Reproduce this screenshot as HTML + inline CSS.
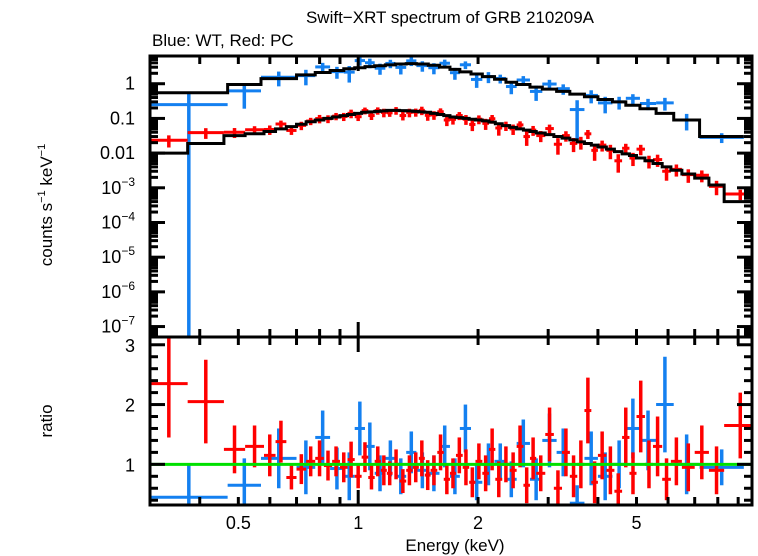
<!DOCTYPE html>
<html><head><meta charset="utf-8"><style>
html,body{margin:0;padding:0;background:#fff}
svg{display:block;font-family:"Liberation Sans",Arial,sans-serif}
</style></head><body>
<svg id="chart" width="758" height="556" viewBox="0 0 758 556" xmlns="http://www.w3.org/2000/svg">
<text x="450" y="23" font-size="17" text-anchor="middle">Swift−XRT spectrum of GRB 210209A</text>
<text x="152" y="46" font-size="17">Blue: WT, Red: PC</text>
<text transform="translate(52,205) rotate(-90)" font-size="17" text-anchor="middle">counts s<tspan font-size="11" dy="-7">−1</tspan><tspan dy="7"> keV</tspan><tspan font-size="11" dy="-7">−1</tspan></text>
<text transform="translate(52,421) rotate(-90)" font-size="17" text-anchor="middle">ratio</text>
<text x="455" y="551" font-size="17" text-anchor="middle">Energy (keV)</text>
<g id="plot"></g>
</svg>
<script>
// ---- data ----
const blueEdges=[0.3,0.47,0.57,0.7,0.78,0.85,0.92,0.98,1.04,1.1,1.17,1.24,1.32,1.4,1.5,1.6,1.7,1.8,1.92,2.05,2.2,2.35,2.5,2.7,2.9,3.15,3.4,3.7,4.0,4.35,4.7,5.1,5.6,6.2,7.2,9.3];
const blueModel=[0.55,0.95,1.4,1.8,2.1,2.4,2.7,2.9,3.1,3.3,3.5,3.7,3.8,3.7,3.4,3.0,2.6,2.2,1.9,1.6,1.35,1.1,0.95,0.8,0.7,0.6,0.5,0.42,0.35,0.3,0.24,0.19,0.14,0.09,0.03];
const blueData=[0.25,0.62,1.54,1.71,3.05,2.23,2.16,4.64,4.03,2.8,3.85,2.96,4.56,3.33,2.89,3.9,2.08,3.52,1.33,1.6,1.42,0.83,1.28,0.6,0.98,0.72,0.18,0.46,0.28,0.3,0.38,0.27,0.28,0.09,0.0285];
const blueRatio=[0.45,0.65,1.1,0.95,1.45,0.93,0.8,1.6,1.3,0.85,1.1,0.8,1.2,0.9,0.85,1.3,0.8,1.6,0.7,1.0,1.05,0.75,1.35,0.75,1.4,1.2,0.35,1.1,0.8,1.0,1.6,1.4,2.0,1.0,0.95];
const blueRatioErr=[0.55,0.45,0.5,0.45,0.45,0.35,0.4,0.45,0.4,0.3,0.3,0.3,0.35,0.3,0.3,0.35,0.3,0.4,0.3,0.35,0.3,0.3,0.4,0.35,0.45,0.4,0.3,0.45,0.4,0.4,0.5,0.5,0.8,0.5,0.3];
const redEdges=[0.3,0.373,0.46,0.52,0.58,0.62,0.66,0.7,0.74,0.78,0.82,0.86,0.9,0.94,0.98,1.02,1.06,1.1,1.14,1.18,1.22,1.27,1.32,1.37,1.42,1.47,1.52,1.58,1.64,1.7,1.76,1.83,1.9,1.97,2.05,2.13,2.21,2.3,2.4,2.5,2.6,2.7,2.8,2.95,3.1,3.25,3.4,3.55,3.7,3.85,4.0,4.2,4.4,4.6,4.8,5.0,5.25,5.5,5.8,6.1,6.5,7.0,7.6,8.3,10.0];
const redModel=[0.010,0.019,0.032,0.036,0.042,0.05,0.058,0.068,0.08,0.09,0.1,0.11,0.12,0.13,0.14,0.15,0.155,0.16,0.165,0.17,0.17,0.168,0.165,0.16,0.155,0.15,0.14,0.13,0.12,0.11,0.105,0.1,0.095,0.09,0.085,0.078,0.07,0.062,0.055,0.05,0.046,0.042,0.038,0.034,0.03,0.027,0.024,0.021,0.019,0.017,0.015,0.013,0.011,0.0095,0.0085,0.0072,0.006,0.005,0.004,0.0032,0.0025,0.0019,0.0012,0.0004];
const redData=[0.0235,0.039,0.040,0.047,0.048,0.069,0.045,0.063,0.084,0.099,0.098,0.116,0.114,0.14,0.112,0.168,0.121,0.168,0.149,0.145,0.17,0.121,0.149,0.152,0.171,0.123,0.126,0.156,0.09,0.094,0.121,0.095,0.067,0.095,0.072,0.098,0.053,0.062,0.05,0.065,0.03,0.046,0.032,0.051,0.018,0.032,0.019,0.021,0.036,0.012,0.017,0.012,0.006,0.0138,0.0072,0.013,0.006,0.0065,0.003,0.0034,0.0024,0.0023,0.0011,0.00066];
const redRatio=[2.35,2.05,1.25,1.3,1.15,1.38,0.78,0.92,1.05,1.1,0.98,1.05,0.95,1.08,0.8,1.12,0.78,1.05,0.9,0.85,1.0,0.72,0.9,0.95,1.1,0.82,0.9,1.2,0.75,0.85,1.15,0.95,0.7,1.05,0.85,1.25,0.75,1.0,0.9,1.3,0.65,1.1,0.85,1.5,0.6,1.2,0.8,1.0,1.9,0.7,1.15,0.9,0.55,1.45,0.85,1.8,1.0,1.3,0.75,1.05,0.95,1.2,0.9,1.65];
const redRatioErr=[0.9,0.7,0.4,0.35,0.35,0.35,0.2,0.25,0.25,0.3,0.25,0.25,0.25,0.3,0.2,0.25,0.2,0.25,0.25,0.2,0.25,0.2,0.25,0.25,0.3,0.25,0.25,0.3,0.25,0.25,0.3,0.3,0.25,0.3,0.3,0.35,0.3,0.3,0.3,0.35,0.3,0.35,0.3,0.45,0.3,0.4,0.35,0.4,0.55,0.35,0.4,0.4,0.3,0.5,0.35,0.6,0.4,0.5,0.35,0.4,0.4,0.45,0.4,0.55];
const xTickVals=[0.3,0.4,0.5,0.6,0.7,0.8,0.9,1,2,3,4,5,6,7,8,9,10];
const xTickLabels=["0.5","1","2","5"];
const yTopLabels=["1","0.1","0.01","10−3","10−4","10−5","10−6","10−7"];
const yTopLabelVals=[1,0.1,0.01,1e-3,1e-4,1e-5,1e-6,1e-7];
const yBotLabels=["1","2","3"];

// ---- geometry ----
const L=150,R=752,T1=56,B1=337,T2=337,B2=505;
const XMIN=0.3,XMAX=9.75,YMIN=5e-8,YMAX=6.3,RMIN=0.32,RMAX=3.13;
const BLUE="#1480f0",RED="#ff0000";
const sx=e=>L+(Math.log10(e)-Math.log10(XMIN))/(Math.log10(XMAX)-Math.log10(XMIN))*(R-L);
const sy=v=>B1-(Math.log10(v)-Math.log10(YMIN))/(Math.log10(YMAX)-Math.log10(YMIN))*(B1-T1);
const sr=v=>B2-(v-RMIN)/(RMAX-RMIN)*(B2-T2);
const NS="http://www.w3.org/2000/svg";
const plot=document.getElementById('plot');
function mk(tag,attrs,parent){const el=document.createElementNS(NS,tag);for(const k in attrs)el.setAttribute(k,attrs[k]);(parent||plot).appendChild(el);return el;}
const defs=mk('defs',{});
const c1=mk('clipPath',{id:'c1'},defs);mk('rect',{x:L,y:T1,width:R-L,height:B1-T1},c1);
const c2=mk('clipPath',{id:'c2'},defs);mk('rect',{x:L,y:T2,width:R-L,height:B2-T2},c2);
const gTop=mk('g',{'clip-path':'url(#c1)'});


const gBot=mk('g',{'clip-path':'url(#c2)'});


const clampY=y=>Math.min(Math.max(y,T1-5),B1+5);

function drawSeries(edges,data,ratio,rerr,color,name){
  for(let i=0;i<data.length;i++){
    const x1=sx(edges[i]),x2=sx(edges[i+1]),xc=sx(Math.sqrt(edges[i]*edges[i+1]));
    const rel=rerr[i]/ratio[i];
    const lo=data[i]*(1-rel),hi=data[i]*(1+rel);
    const g=mk('g',{},gTop);
    
    
    mk('line',{x1:x1,x2:x2,y1:sy(data[i]),y2:sy(data[i]),stroke:color,'stroke-width':3},g);
    mk('line',{x1:xc,x2:xc,y1:clampY(sy(hi)),y2:lo>0?clampY(sy(lo)):B1+5,stroke:color,'stroke-width':3.5},g);
    const g2=mk('g',{},gBot);
    
    
    mk('line',{x1:x1,x2:x2,y1:sr(ratio[i]),y2:sr(ratio[i]),stroke:color,'stroke-width':3},g2);
    mk('line',{x1:xc,x2:xc,y1:sr(ratio[i]+rerr[i]),y2:sr(Math.max(ratio[i]-rerr[i],RMIN-0.1)),stroke:color,'stroke-width':3.5},g2);
  }
}
function drawModel(edges,model,name){
  let d='';
  for(let i=0;i<model.length;i++){
    const y=sy(model[i]);
    d+=(i===0?'M':'L')+sx(edges[i])+','+y+'L'+sx(edges[i+1])+','+y;
  }
  const p=mk('path',{d:d,fill:'none',stroke:'#000','stroke-width':3},gTop);
  
  
}
drawSeries(blueEdges,blueData,blueRatio,blueRatioErr,BLUE,'wt');
drawSeries(redEdges,redData,redRatio,redRatioErr,RED,'pc');
drawModel(blueEdges,blueModel,'wt-model-line');
drawModel(redEdges,redModel,'pc-model-line');
const gl=mk('line',{x1:L,x2:R,y1:sr(1),y2:sr(1),stroke:'#00e000','stroke-width':3},gBot);



// ---- axes ----
const ax=mk('g',{stroke:'#000','stroke-width':3,fill:'none'});


mk('rect',{x:L,y:T1,width:R-L,height:B2-T1},ax);
mk('line',{x1:L,x2:R,y1:T2,y2:T2},ax);
xTickVals.forEach(v=>{
  const x=sx(v); if(x<L||x>R)return;
  const len=(v===1||v===10)?15:8;
  [[T1,1],[T2,1],[T2,-1],[B2,-1]].forEach(([y,s])=>mk('line',{x1:x,x2:x,y1:y,y2:y+s*len},ax));
});
for(let dec=-8;dec<=0;dec++){
  for(let m=1;m<=9;m++){
    const v=m*Math.pow(10,dec); if(v<YMIN||v>YMAX)continue;
    const y=sy(v),len=m===1?15:8;
    mk('line',{x1:L,x2:L+len,y1:y,y2:y},ax);mk('line',{x1:R,x2:R-len,y1:y,y2:y},ax);
  }
}
for(let v=0.4;v<=3.01;v+=0.2){
  const y=sr(v),maj=Math.abs(v-Math.round(v))<0.01,len=maj?15:8;
  mk('line',{x1:L,x2:L+len,y1:y,y2:y},ax);mk('line',{x1:R,x2:R-len,y1:y,y2:y},ax);
}
// ---- labels ----
[0.5,1,2,5].forEach((v,i)=>{
  const t=mk('text',{x:sx(v),y:529,'font-size':18,'text-anchor':'middle',fill:'#000'});
  
  
  t.textContent=xTickLabels[i];
});
yTopLabels.forEach((s,i)=>{
  const t=mk('text',{x:135,y:sy(yTopLabelVals[i])+6,'font-size':18,'text-anchor':'end',fill:'#000'});
  
  
  if(s.startsWith('10')){t.textContent='10';const sp=mk('tspan',{'font-size':12,dy:-8},t);sp.textContent=s.slice(2);}
  else t.textContent=s;
});
yBotLabels.forEach(s=>{
  const t=mk('text',{x:135,y:sr(+s)+7,'font-size':18,'text-anchor':'end',fill:'#000'});
  
  
  t.textContent=s;
});
</script>
</body></html>
